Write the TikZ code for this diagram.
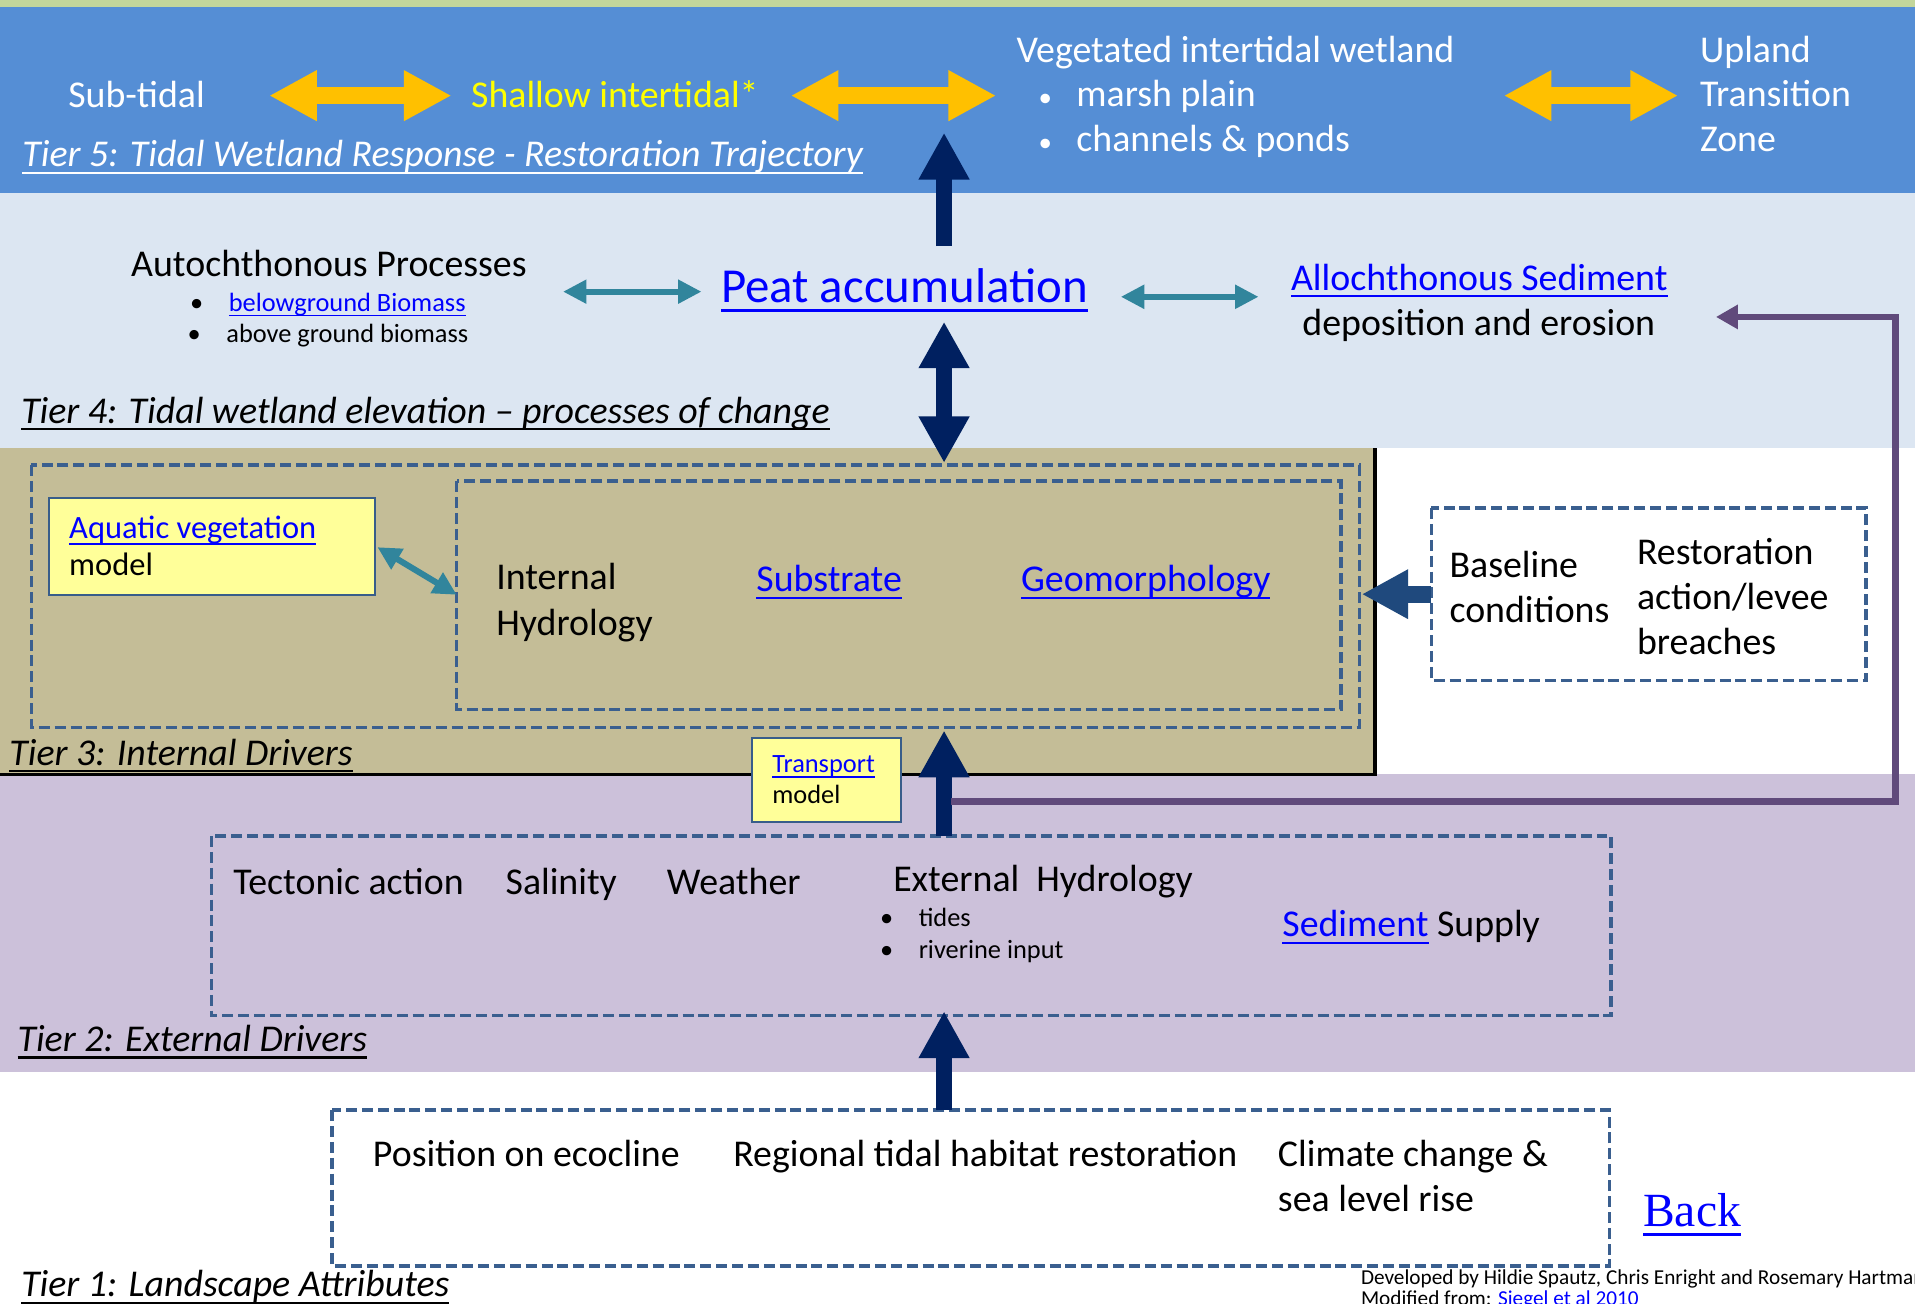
\documentclass[tikz,border=0pt]{standalone}
\usepackage{fontspec}
\setmainfont{Carlito}
\newfontfamily\backfont{Liberation Serif}
\usetikzlibrary{arrows.meta}

\definecolor{bandgreen}{HTML}{C3D69B}
\definecolor{tierfive}{HTML}{558ED5}
\definecolor{tierfour}{HTML}{DCE6F2}
\definecolor{tierthree}{HTML}{C4BD97}
\definecolor{tiertwo}{HTML}{CCC1DA}
\definecolor{goldarrow}{HTML}{FFC000}
\definecolor{brightyellow}{HTML}{FFFF00}
\definecolor{navyarrow}{HTML}{002060}
\definecolor{tealarrow}{HTML}{31859C}
\definecolor{purpleline}{HTML}{604A7B}
\definecolor{linkblue}{HTML}{0000FF}
\definecolor{dashblue}{HTML}{3A5F8F}
\definecolor{noteyellow}{HTML}{FFFF99}
\definecolor{noteedge}{HTML}{385D8A}
\definecolor{inputarrow}{HTML}{1F497D}

% underlined hyperlink-style text: a rule of fixed depth under the whole box
\newsavebox\ulbox
\newcommand\lnk[1]{\sbox\ulbox{#1}\rlap{\vrule height -0.13em depth 0.19em width \wd\ulbox}\usebox\ulbox}

\newcommand\fmain{\fontsize{15.5pt}{18pt}\selectfont}
\newcommand\fsmall{\fontsize{10.8pt}{13pt}\selectfont}
\newcommand\fpeat{\fontsize{20pt}{24pt}\selectfont}
\newcommand\faqua{\fontsize{13.3pt}{16pt}\selectfont}
\newcommand\fcredit{\fontsize{8.7pt}{10pt}\selectfont}
% small bullet used in the top tier lists
\newcommand\wbul{\llap{{\fontsize{11pt}{13pt}\selectfont •}\hskip 10pt}}

\tikzset{
  txt/.style={anchor=base west, inner sep=0pt, font=\fmain, text=black},
  wtxt/.style={txt, text=white},
  smalltxt/.style={txt, font=\fsmall},
  tierlabel/.style={txt, font=\fmain\itshape},
  dbox/.style={draw=dashblue, line width=1.4pt, dash pattern=on 4.5pt off 2pt},
  notefill/.style={draw=noteedge, fill=noteyellow, line width=0.8pt},
  goldarr/.style={draw=goldarrow, line width=6.7pt,
    arrows={Triangle[length=19.5pt,width=19.4pt]-Triangle[length=19.5pt,width=19.4pt]}},
  navyarr/.style={draw=navyarrow, line width=6.5pt,
    arrows={-Triangle[length=19.2pt,width=19.5pt]}},
  navydbl/.style={draw=navyarrow, line width=6.5pt,
    arrows={Triangle[length=19pt,width=19.5pt]-Triangle[length=19pt,width=19.5pt]}},
  tealarr/.style={draw=tealarrow, line width=2.5pt,
    arrows={Triangle[length=9.6pt,width=9.3pt]-Triangle[length=9.6pt,width=9.3pt]}},
  purplearr/.style={draw=purpleline, line width=2.75pt, line join=miter,
    arrows={-Triangle[length=9pt,width=9.5pt]}},
  inputarr/.style={draw=inputarrow, line width=7pt,
    arrows={-Triangle[length=19pt,width=19pt]}},
}

\begin{document}
\begin{tikzpicture}[x=0.5pt,y=-0.5pt]
\clip (0,0) rectangle (1568,1067.7);
\fill[white] (0,0) rectangle (1568,1067.7);

% tier bands
\fill[bandgreen] (0,0) rectangle (1568,6);
\fill[tierfive] (0,5.5) rectangle (1568,158.3);
\fill[tierfour] (0,158.3) rectangle (1568,366.6);
\fill[tiertwo] (0,634) rectangle (1568,877.5);
\fill[tierthree] (0,366.6) rectangle (1126,634);
\draw[black, line width=1.4pt] (0,634) -- (1126,634) -- (1126,366.6);

% ---------- Tier 5 ----------
\node[wtxt] (subtidal) at (55.5,88) {Sub-tidal};
\node[txt, text=brightyellow] (shallow) at (385.4,88) {Shallow intertidal*};
\node[wtxt] (veg) at (832,51) {Vegetated intertidal wetland};
\node[wtxt] (marsh) at (881,87.4) {\wbul marsh plain};
\node[wtxt] (chan) at (881,124) {\wbul channels \& ponds};
\node[wtxt] (upland) at (1391.6,51) {Upland};
\node[wtxt] (transition) at (1391.6,87.4) {Transition};
\node[wtxt] (zone) at (1391.6,124) {Zone};
\node[tierlabel, text=white] (tier5) at (18,136.5) {\lnk{Tier 5: Tidal Wetland Response - Restoration Trajectory}};

\coordinate (g1a) at (220.4,78.3); \coordinate (g1b) at (369.7,78.3);
\coordinate (g2a) at (647.5,78.3); \coordinate (g2b) at (815.6,78.3);
\coordinate (g3a) at (1231.3,78.3); \coordinate (g3b) at (1374,78.3);
\draw[goldarr] (g1a) -- (g1b);
\draw[goldarr] (g2a) -- (g2b);
\draw[goldarr] (g3a) -- (g3b);

% ---------- Tier 4 ----------
\node[txt] (auto) at (107,226) {Autochthonous Processes};
\node[smalltxt, text=linkblue] (below) at (187,255) {\llap{\textcolor{black}{•}\hskip 10.5pt}\lnk{belowground Biomass}};
\node[smalltxt] (above) at (185,280.6) {\llap{•\hskip 10.5pt}above ground biomass};
\node[txt, font=\fpeat, text=linkblue] (peat) at (590,247.9) {\lnk{Peat accumulation}};
\node[txt, text=linkblue] (allo) at (1056.7,237.5) {\lnk{Allochthonous Sediment}};
\node[txt] (depo) at (1066,274.3) {deposition and erosion};
\node[tierlabel] (tier4) at (17,346.5) {\lnk{Tier 4: Tidal wetland elevation \textendash{} processes of change}};

\coordinate (t1a) at (461,238.8); \coordinate (t1b) at (574.4,238.8);
\coordinate (t2a) at (917.7,243); \coordinate (t2b) at (1030.5,243);
\draw[tealarr] (t1a) -- (t1b);
\draw[tealarr] (t2a) -- (t2b);

\coordinate (peatup) at (773,201.5); \coordinate (tierfivein) at (773,108.6);
\draw[navyarr] (peatup) -- (tierfivein);
\coordinate (peatdown) at (773,263.4); \coordinate (tierthreetop) at (773,379);
\draw[navydbl] (peatdown) -- (tierthreetop);

% ---------- Tier 3 ----------
\draw[dbox] (25.6,380.7) rectangle (1113,595.5);
\draw[dbox] (374,394) rectangle (1098,581);
\draw[notefill] (40,407.5) rectangle (307,487);
\node[txt, font=\faqua, text=linkblue] (aqt) at (56.3,440.8) {\lnk{Aquatic vegetation}};
\node[txt, font=\faqua] (aqm) at (56.3,470.8) {model};
\node[txt] (ih1) at (406,483) {Internal};
\node[txt] (ih2) at (406,520) {Hydrology};
\node[txt, text=linkblue] (subs) at (619,484.5) {\lnk{Substrate}};
\node[txt, text=linkblue] (geo) at (835.6,484.5) {\lnk{Geomorphology}};
\node[tierlabel] (tier3) at (7.3,626.4) {\lnk{Tier 3: Internal Drivers}};

\coordinate (aqedge) at (309,448); \coordinate (innerwest) at (374,487);
\draw[tealarr] (aqedge) -- (innerwest);

\draw[notefill] (616,604) rectangle (738,673);
\node[smalltxt, text=linkblue] (trans) at (632,632.7) {\lnk{Transport}};
\node[smalltxt] (transm) at (632,657.8) {model};

% baseline conditions box
\draw[dbox, fill=white] (1172,416) rectangle (1528,557);
\node[txt] (base1) at (1186.5,472.7) {Baseline};
\node[txt] (base2) at (1186.5,509.9) {conditions};
\node[txt] (rest1) at (1340,462.6) {Restoration};
\node[txt] (rest2) at (1340,498.9) {action/levee};
\node[txt] (rest3) at (1340,535.5) {breaches};
\coordinate (basewest) at (1172,486.5); \coordinate (outereast) at (1115,486.5);
\draw[inputarr] (basewest) -- (outereast);

% ---------- Tier 2 ----------
\draw[dbox] (173,684.5) rectangle (1319,831.6);
\node[txt] (tect) at (190.6,732.8) {Tectonic action};
\node[txt] (sal) at (413.6,732.8) {Salinity};
\node[txt] (weather) at (545.7,732.8) {Weather};
\node[txt] (exthyd) at (731,730) {External\ \ Hydrology};
\node[smalltxt] (tides) at (751.9,758.8) {\llap{•\hskip 10.5pt}tides};
\node[smalltxt] (river) at (751.9,784.7) {\llap{•\hskip 10.5pt}riverine input};
\node[txt] (sed) at (1049.6,767) {\textcolor{linkblue}{\lnk{Sediment}} Supply};
\node[tierlabel] (tier2) at (14,861) {\lnk{Tier 2: External Drivers}};

\coordinate (tiertwotop) at (773,684.5); \coordinate (tierthreebot) at (773,598);
\draw[navyarr] (tiertwotop) -- (tierthreebot);

% sediment feedback loop
\coordinate (loopstart) at (779,656.4);
\coordinate (loopright) at (1552,656.4);
\coordinate (looptop) at (1552,259.5);
\coordinate (alloin) at (1405,259.5);
\draw[purplearr] (loopstart) -- (loopright) -- (looptop) -- (alloin);

% ---------- Tier 1 ----------
\draw[dbox] (272,909) rectangle (1318,1036.6);
\node[txt] (eco) at (305,955.3) {Position on ecocline};
\node[txt] (regional) at (600,955.3) {Regional tidal habitat restoration};
\node[txt] (clim1) at (1046,955.3) {Climate change \&};
\node[txt] (clim2) at (1046,992.1) {sea level rise};
\node[txt, font=\backfont\fontsize{19.5pt}{23pt}\selectfont, text=linkblue] (back) at (1345,1004.4) {\lnk{Back}};
\node[tierlabel] (tier1) at (17,1061.8) {\lnk{Tier 1: Landscape Attributes}};

\coordinate (tieronetop) at (773,909); \coordinate (tiertwobot) at (773,828);
\draw[navyarr] (tieronetop) -- (tiertwobot);

\node[txt, font=\fcredit] (credit1) at (1114,1052) {Developed by Hildie Spautz, Chris Enright and Rosemary Hartman};
\node[txt, font=\fcredit] (credit2) at (1114,1069) {Modified from: \textcolor{linkblue}{Siegel et al 2010}};
\end{tikzpicture}
\end{document}
